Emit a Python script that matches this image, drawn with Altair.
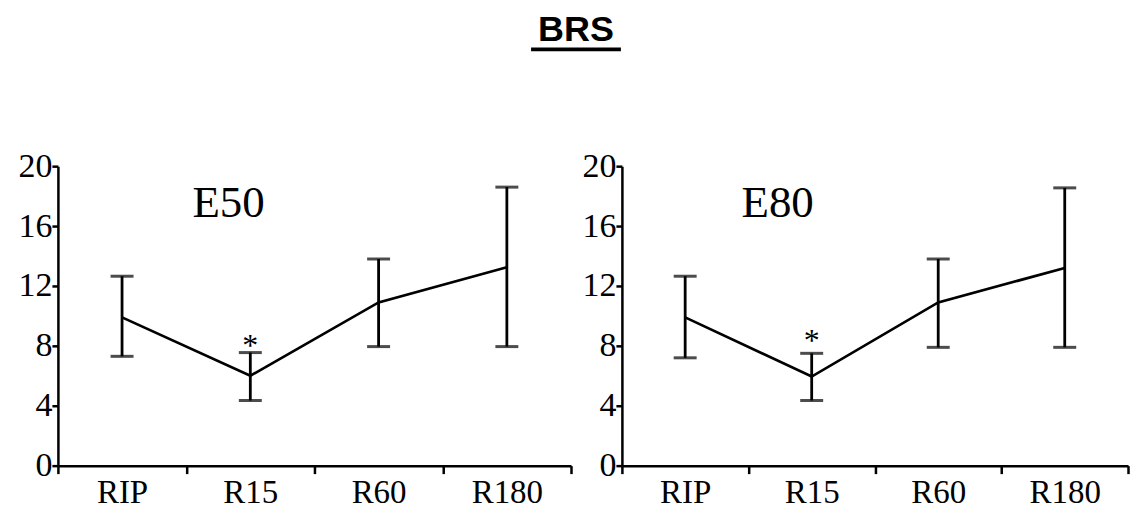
import altair as alt
import pandas as pd

categories = ["RIP", "R15", "R60", "R180"]
e50_mean = [9.9, 6.0, 10.9, 13.25]
e50_upper = [12.65, 7.55, 13.8, 18.6]
e50_lower = [7.3, 4.35, 7.95, 7.95]
e80_mean = [9.9, 5.95, 10.9, 13.2]
e80_upper = [12.65, 7.5, 13.8, 18.55]
e80_lower = [7.2, 4.35, 7.9, 7.9]
y_ticks = [0, 4, 8, 12, 16, 20]
panel_labels = ["E50", "E80"]
star_label = "*"
star_category = "R15"
title_text = "BRS"

SERIF = "Liberation Serif"
SANS = "Liberation Sans"
H = 300


def panel(mean, upper, lower, label, width, label_x, star_y, with_title=False):
    df = pd.DataFrame({"cat": categories, "mean": mean, "upper": upper, "lower": lower})
    x = alt.X(
        "cat:N", sort=categories, bandPosition=0.5,
        scale=alt.Scale(type="band", paddingInner=0, paddingOuter=0),
        axis=alt.Axis(title=None, labelAngle=0, tickBand="extent", grid=False,
                      domainColor="black", domainWidth=2.5, tickColor="black",
                      tickWidth=2.5, tickSize=8, labelFont=SERIF, labelFontSize=33,
                      labelColor="black", labelPadding=3),
    )
    yscale = alt.Scale(domain=[0, 20], nice=False, zero=True)
    yaxis = alt.Axis(title=None, values=y_ticks, grid=False, domainColor="black",
                     domainWidth=2.5, tickColor="black", tickWidth=2.5, tickSize=6,
                     labelFont=SERIF, labelFontSize=34, labelColor="black",
                     labelPadding=0)
    base = alt.Chart(df)
    line = base.mark_line(color="black", strokeWidth=2.7).encode(
        x=x, y=alt.Y("mean:Q", scale=yscale, axis=yaxis))
    rule = base.mark_rule(color="black", strokeWidth=2.8).encode(
        x=x, y=alt.Y("lower:Q"), y2="upper:Q")
    cap_hi = base.mark_tick(color="black", size=23, thickness=3, orient="horizontal").encode(
        x=x, y="upper:Q")
    cap_lo = base.mark_tick(color="black", size=23, thickness=3, orient="horizontal").encode(
        x=x, y="lower:Q")
    lab = alt.Chart(alt.Data(values=[{"t": label}])).mark_text(
        font=SERIF, fontSize=45, color="black", align="center", baseline="middle"
    ).encode(text="t:N", x=alt.value(label_x), y=alt.value(37))
    star = alt.Chart(alt.Data(values=[{"cat": star_category, "t": star_label}])).mark_text(
        font=SERIF, fontSize=32, color="black", align="center", baseline="alphabetic"
    ).encode(text="t:N", x=x, y=alt.value(star_y))
    layers = [line, rule, cap_hi, cap_lo, lab, star]
    if with_title:
        ttl = alt.Chart(alt.Data(values=[{"t": title_text}])).mark_text(
            font=SANS, fontSize=36, fontWeight="bold", color="black",
            align="center", baseline="alphabetic"
        ).encode(text="t:N", x=alt.value(519), y=alt.value(-125))
        uline = alt.Chart(alt.Data(values=[{"t": title_text}])).mark_rule(
            color="black", strokeWidth=4
        ).encode(x=alt.value(474), x2=alt.value(564), y=alt.value(-117))
        layers += [ttl, uline]
    return alt.layer(*layers).properties(width=width, height=H)


left = panel(e50_mean, e50_upper, e50_lower, panel_labels[0], 514, 171, 190, True)
right = panel(e80_mean, e80_upper, e80_lower, panel_labels[1], 507, 156, 185)

chart = alt.hconcat(left, right, spacing=51, bounds="flush").properties(
    padding={"left": 10, "top": 4, "right": 0, "bottom": 0},
    background="white",
).configure_view(stroke=None)

chart.save("out.html", embed_options={"renderer": "svg", "actions": False})
